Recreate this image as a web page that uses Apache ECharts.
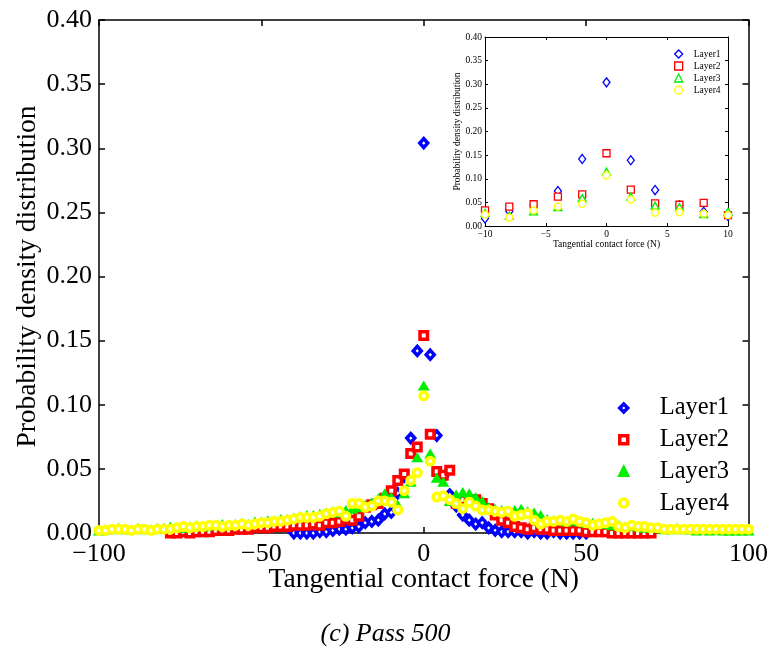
<!DOCTYPE html>
<html>
<head>
<meta charset="utf-8">
<script src="https://cdn.jsdelivr.net/npm/echarts@6/dist/echarts.min.js"></script>
<style>
  html, body { margin: 0; padding: 0; background: #fff; }
  #main { width: 771px; height: 655px; }
</style>
</head>
<body>
<div id="main"></div>
<script>
// force bins (N), 2 N wide
const forceBins = [-100, -98, -96, -94, -92, -90, -88, -86, -84, -82,
  -80, -78, -76, -74, -72, -70, -68, -66, -64, -62,
  -60, -58, -56, -54, -52, -50, -48, -46, -44, -42,
  -40, -38, -36, -34, -32, -30, -28, -26, -24, -22,
  -20, -18, -16, -14, -12, -10, -8, -6, -4, -2,
  0, 2, 4, 6, 8, 10, 12, 14, 16, 18,
  20, 22, 24, 26, 28, 30, 32, 34, 36, 38,
  40, 42, 44, 46, 48, 50, 52, 54, 56, 58,
  60, 62, 64, 66, 68, 70, 72, 74, 76, 78,
  80, 82, 84, 86, 88, 90, 92, 94, 96, 98, 100]

// probability density per bin, null = no point
const layer1 = [null, null, null, null, null, null, null, null, null, null,
  null, null, null, null, null, null, null, null, null, null,
  null, null, null, null, null, null, null, null, null, null,
  0.000, 0.000, 0.000, 0.000, 0.001, 0.001, 0.002, 0.003, 0.003, 0.004,
  0.005, 0.008, 0.009, 0.010, 0.015, 0.016, 0.031, 0.044, 0.074, 0.142,
  0.304, 0.139, 0.076, 0.044, 0.030, 0.021, 0.014, 0.010, 0.007, 0.008,
  0.004, 0.002, 0.001, 0.001, 0.001, 0.001, 0.000, 0.001, 0.000, 0.000,
  0.001, 0.000, 0.000, 0.000, 0.000, 0.000, null, null, null, null,
  null, null, null, null, null, null, null, null, null, null,
  null, null, null, null, null, null, null, null, null, null, null]

const layer2 = [null, null, null, null, null, null, null, null, null, null,
  null, 0.000, 0.000, 0.001, 0.000, 0.001, 0.001, 0.001, 0.002, 0.002,
  0.002, 0.003, 0.003, 0.003, 0.004, 0.004, 0.004, 0.005, 0.005, 0.005,
  0.006, 0.006, 0.006, 0.007, 0.006, 0.008, 0.008, 0.009, 0.011, 0.010,
  0.013, 0.020, 0.022, 0.023, 0.027, 0.033, 0.041, 0.046, 0.062, 0.067,
  0.154, 0.077, 0.048, 0.045, 0.049, 0.023, 0.026, 0.025, 0.026, 0.023,
  0.019, 0.014, 0.010, 0.008, 0.005, 0.004, 0.003, 0.004, 0.003, 0.003,
  0.002, 0.002, 0.002, 0.002, 0.002, 0.001, 0.001, 0.001, 0.001, 0.000,
  0.000, 0.000, 0.000, 0.000, 0.000, 0.000, null, null, null, null,
  null, null, null, null, null, null, null, null, null, null, null]

const layer3 = [0.002, 0.003, 0.003, 0.004, 0.003, 0.003, 0.004, 0.003, 0.003, 0.004,
  0.004, 0.005, 0.004, 0.004, 0.005, 0.006, 0.005, 0.006, 0.006, 0.007,
  0.006, 0.007, 0.008, 0.007, 0.009, 0.009, 0.010, 0.010, 0.011, 0.011,
  0.012, 0.013, 0.014, 0.014, 0.015, 0.016, 0.017, 0.016, 0.018, 0.019,
  0.020, 0.022, 0.024, 0.027, 0.031, 0.028, 0.022, 0.031, 0.040, 0.059,
  0.115, 0.062, 0.043, 0.040, 0.025, 0.030, 0.032, 0.031, 0.028, 0.025,
  0.020, 0.019, 0.018, 0.017, 0.018, 0.019, 0.017, 0.016, 0.014, 0.011,
  0.010, 0.010, 0.009, 0.010, 0.009, 0.008, 0.008, 0.007, 0.007, 0.006,
  0.006, 0.005, 0.006, 0.005, 0.004, 0.004, 0.004, 0.003, 0.003, 0.004,
  0.003, 0.003, 0.002, 0.003, 0.002, 0.003, 0.002, 0.002, 0.002, 0.002, 0.002]

const layer4 = [0.002, 0.002, 0.003, 0.003, 0.003, 0.002, 0.003, 0.003, 0.002, 0.003,
  0.003, 0.003, 0.004, 0.005, 0.004, 0.005, 0.005, 0.006, 0.006, 0.005,
  0.006, 0.006, 0.007, 0.006, 0.007, 0.008, 0.008, 0.009, 0.009, 0.010,
  0.011, 0.012, 0.012, 0.012, 0.013, 0.015, 0.016, 0.017, 0.013, 0.023,
  0.023, 0.020, 0.021, 0.025, 0.025, 0.024, 0.018, 0.033, 0.041, 0.047,
  0.107, 0.056, 0.028, 0.029, 0.026, 0.023, 0.019, 0.024, 0.021, 0.018,
  0.018, 0.017, 0.016, 0.017, 0.013, 0.014, 0.015, 0.010, 0.007, 0.009,
  0.009, 0.010, 0.009, 0.011, 0.009, 0.008, 0.006, 0.007, 0.008, 0.009,
  0.005, 0.004, 0.006, 0.005, 0.005, 0.004, 0.004, 0.003, 0.003, 0.003,
  0.003, 0.003, 0.003, 0.003, 0.003, 0.003, 0.003, 0.003, 0.003, 0.003, 0.003]

const layerNames = ['Layer1', 'Layer2', 'Layer3', 'Layer4']
const xTicksMain = { min: -100, max: 100, step: 50 }
const xTicksInset = { min: -10, max: 10, step: 5 }
const yTicks = { min: 0, max: 0.4, step: 0.05 }

const font = '"Liberation Serif", "Times New Roman", serif'

function pairs (vals, lo, hi) {
  const out = []
  for (let i = 0; i < forceBins.length; i++) {
    if (vals[i] == null) continue
    if (forceBins[i] < lo || forceBins[i] > hi) continue
    out.push([forceBins[i], vals[i]])
  }
  return out
}

const minusFmt = v => (v < 0 ? '\u2212' + Math.abs(v) : String(v))

function xAx (grid, ticks, pos, fs, nfs, tickLen, lw, name, nameGap) {
  return {
    gridIndex: grid, type: 'value', position: pos,
    min: ticks.min, max: ticks.max, interval: ticks.step,
    axisLine: { onZero: false, lineStyle: { color: '#000', width: lw } },
    axisTick: { inside: true, length: tickLen, lineStyle: { color: '#000', width: lw } },
    axisLabel: { show: pos === 'bottom', fontSize: fs, fontFamily: font, color: '#000', margin: fs > 15 ? 8 : 3, formatter: minusFmt },
    splitLine: { show: false },
    name: pos === 'bottom' ? name : '',
    nameLocation: 'middle', nameGap: nameGap, nameMoveOverlap: false,
    nameTextStyle: { fontSize: nfs, fontFamily: font, color: '#000' }
  }
}

function yAx (grid, pos, fs, nfs, tickLen, lw, name, nameGap) {
  return {
    gridIndex: grid, type: 'value', position: pos,
    min: yTicks.min, max: yTicks.max, interval: yTicks.step,
    axisLine: { onZero: false, lineStyle: { color: '#000', width: lw } },
    axisTick: { inside: true, length: tickLen, lineStyle: { color: '#000', width: lw } },
    axisLabel: { show: pos === 'left', fontSize: fs, fontFamily: font, color: '#000', margin: fs > 15 ? 7 : 3, formatter: v => v.toFixed(2) },
    splitLine: { show: false },
    name: pos === 'left' ? name : '',
    nameLocation: 'middle', nameGap: nameGap, nameMoveOverlap: false,
    nameTextStyle: { fontSize: nfs, fontFamily: font, color: '#000' }
  }
}

const colors = ['#0000ff', '#ff0000', '#00ee00', '#ffff00']
const symbols = ['diamond', 'rect', 'triangle', 'circle']
const allLayers = [layer1, layer2, layer3, layer4]

const series = []
// main plot
allLayers.forEach((vals, k) => {
  const filled = symbols[k] === 'triangle'
  series.push({
    name: layerNames[k], type: 'scatter', xAxisIndex: 0, yAxisIndex: 0,
    data: pairs(vals, -100, 100),
    symbol: symbols[k],
    symbolSize: filled ? [12, 10] : (k === 0 ? [8, 9] : 7.5),
    itemStyle: filled
      ? { color: colors[k], opacity: 1 }
      : { color: '#fff', borderColor: colors[k], borderWidth: 3.5, opacity: 1 },
    z: 2 + k
  })
})
// inset
allLayers.forEach((vals, k) => {
  series.push({
    name: layerNames[k] + ' ', type: 'scatter', xAxisIndex: 2, yAxisIndex: 2,
    data: pairs(vals, -10, 10),
    symbol: symbols[k],
    symbolSize: k === 0 ? [7, 9] : (k === 2 ? [8, 7] : 7),
    itemStyle: { color: '#fff', borderColor: colors[k], borderWidth: 1.3, opacity: 1 },
    z: 10 + k
  })
})

const mainLegendItems = layerNames.map((n, k) => ({
  name: n,
  itemStyle: k === 2
    ? { color: colors[k], borderColor: colors[k], borderWidth: 3, borderJoin: 'miter' }
    : { borderWidth: 3.5 }
}))

const chart = echarts.init(document.getElementById('main'))
chart.setOption({
  animation: false,
  backgroundColor: '#fff',
  title: {
    text: '(c) Pass 500', left: 'center', top: 616,
    textStyle: { fontSize: 26, fontStyle: 'italic', fontWeight: 'normal', fontFamily: font, color: '#000' }
  },
  grid: [
    { left: 99, top: 20, width: 651, height: 513 },
    { left: 485, top: 37, width: 243, height: 189 }
  ],
  legend: [
    {
      data: mainLegendItems, orient: 'vertical', left: 613, top: 390,
      itemWidth: 8, itemHeight: 8, itemGap: 5.7,
      textStyle: { fontSize: 24.5, fontFamily: font, color: '#000', lineHeight: 26, padding: [0, 0, 0, 27] }
    },
    {
      data: layerNames.map(n => n + ' '), orient: 'vertical', left: 669, top: 44,
      itemWidth: 8, itemHeight: 8, itemGap: 2,
      itemStyle: { borderWidth: 1.3 },
      textStyle: { fontSize: 9.5, fontFamily: font, color: '#000', lineHeight: 10, padding: [0, 0, 0, 6] }
    }
  ],
  xAxis: [
    xAx(0, xTicksMain, 'bottom', 26, 27.5, 6, 1.5, 'Tangential contact force (N)', 33),
    xAx(0, xTicksMain, 'top', 26, 27.5, 6, 1.5, '', 0),
    xAx(1, xTicksInset, 'bottom', 9.5, 9.5, 3, 1, 'Tangential contact force (N)', 13),
    xAx(1, xTicksInset, 'top', 9.5, 9.5, 3, 1, '', 0)
  ],
  yAxis: [
    yAx(0, 'left', 26, 27.5, 6, 1.5, 'Probability density distribution', 57),
    yAx(0, 'right', 26, 27.5, 6, 1.5, '', 0),
    yAx(1, 'left', 9.5, 9.5, 3, 1, 'Probability density distribution', 23),
    yAx(1, 'right', 9.5, 9.5, 3, 1, '', 0)
  ],
  series: series
})
</script>
</body>
</html>
